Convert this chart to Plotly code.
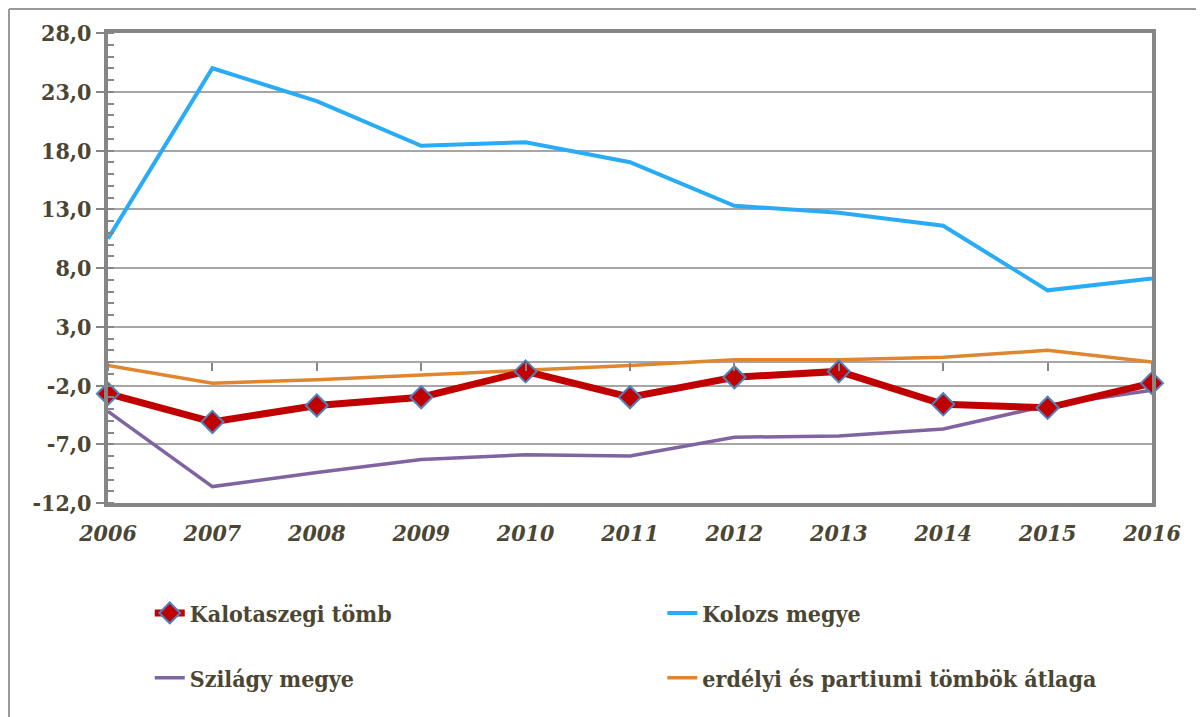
import plotly.graph_objects as go

years = [2006, 2007, 2008, 2009, 2010, 2011, 2012, 2013, 2014, 2015, 2016]
kalotaszegi = [-2.7, -5.1, -3.7, -3.0, -0.8, -3.0, -1.3, -0.8, -3.6, -3.9, -1.8]
kolozs = [10.5, 25.0, 22.2, 18.4, 18.7, 17.0, 13.3, 12.7, 11.6, 6.1, 7.1]
szilagy = [-4.2, -10.6, -9.4, -8.3, -7.9, -8.0, -6.4, -6.3, -5.7, -3.7, -2.4]
erdelyi = [-0.3, -1.8, -1.5, -1.1, -0.7, -0.3, 0.2, 0.2, 0.4, 1.0, 0.0]
y_ticks = [-12, -7, -2, 3, 8, 13, 18, 23, 28]
y_ticktext = ["-12,0", "-7,0", "-2,0", "3,0", "8,0", "13,0", "18,0", "23,0", "28,0"]

TXT = "#4b4632"
AX = "#868686"
GRID = "#a6a6a6"
FONT = "DejaVu Serif Condensed"

fig = go.Figure()

fig.add_trace(go.Scatter(x=years, y=erdelyi, name="erdélyi és partiumi tömbök átlaga",
                         mode="lines", line=dict(color="#e0862e", width=3.5),
                         legend="legend4", cliponaxis=False))
fig.add_trace(go.Scatter(x=years, y=szilagy, name="Szilágy megye",
                         mode="lines", line=dict(color="#8064a2", width=3.5),
                         legend="legend3", cliponaxis=False))
fig.add_trace(go.Scatter(x=years, y=kolozs, name="Kolozs megye",
                         mode="lines", line=dict(color="#29abf5", width=4),
                         legend="legend2", cliponaxis=False))
fig.add_trace(go.Scatter(x=years, y=kalotaszegi, name="Kalotaszegi tömb",
                         mode="lines+markers", line=dict(color="#c00000", width=7),
                         marker=dict(symbol="diamond", size=17, color="#c00000",
                                     line=dict(color="#4f81bd", width=2)),
                         legend="legend", cliponaxis=False))

# empty trace on x2 so the category tick axis at y=0 is drawn
fig.add_trace(go.Scatter(x=years, y=[None] * len(years), xaxis="x2", showlegend=False,
                         hoverinfo="skip"))

ymin, ymax = -12, 28
legfont = dict(family=FONT, size=23, color=TXT, weight="bold")


def leg(x, y):
    return dict(orientation="h", x=x, y=y, xanchor="left", yanchor="middle",
                font=legfont, bgcolor="rgba(0,0,0,0)", itemwidth=30)


L, T, PW, PH = 100, 25, 1044, 470
fig.update_layout(
    width=1204, height=717,
    margin=dict(l=L, r=1204 - L - PW, t=T, b=717 - T - PH, autoexpand=False),
    paper_bgcolor="white", plot_bgcolor="white",
    font=dict(family=FONT, color=TXT),
    xaxis=dict(range=[2006, 2016], tickvals=years,
               ticktext=[str(y) for y in years],
               tickfont=dict(family=FONT, size=23, color=TXT, weight="bold", style="italic"),
               showgrid=False, zeroline=False, showline=True, linecolor=AX, linewidth=4,
               mirror=True, ticks="", ticklabelstandoff=6),
    xaxis2=dict(range=[2006, 2016], overlaying="x", anchor="free",
                position=(0 - ymin) / (ymax - ymin), tickvals=years,
                showticklabels=False, ticks="outside", ticklen=8, tickwidth=2, tickcolor=AX,
                showgrid=False, zeroline=False, showline=False),
    yaxis=dict(range=[ymin, ymax], tickvals=y_ticks,
               ticktext=y_ticktext,
               tickfont=dict(family=FONT, size=23, color=TXT, weight="bold"),
               showgrid=True, gridcolor=GRID, gridwidth=2,
               zeroline=True, zerolinecolor=GRID, zerolinewidth=2,
               showline=True, linecolor=AX, linewidth=4, mirror=True,
               ticks="outside", ticklen=8, tickwidth=2, tickcolor=AX,
               minor=dict(dtick=1, tick0=-12, ticks="inside", ticklen=6, tickwidth=2,
                          tickcolor=AX, showgrid=False)),
    legend=leg(0.040, -0.234),
    legend2=leg(0.531, -0.234),
    legend3=leg(0.040, -0.372),
    legend4=leg(0.531, -0.372),
    shapes=[
        dict(type="line", xref="paper", yref="paper", x0=-(L - 1) / PW, x1=1.1,
             y0=1 + (T - 1) / PH, y1=1 + (T - 1) / PH,
             line=dict(color="#9a9a9a", width=2)),
        dict(type="line", xref="paper", yref="paper", x0=-(L - 1) / PW, x1=-(L - 1) / PW,
             y0=1 + (T - 1) / PH, y1=-0.5,
             line=dict(color="#9a9a9a", width=2)),
    ],
    showlegend=True,
)

fig.write_html("out.html")
